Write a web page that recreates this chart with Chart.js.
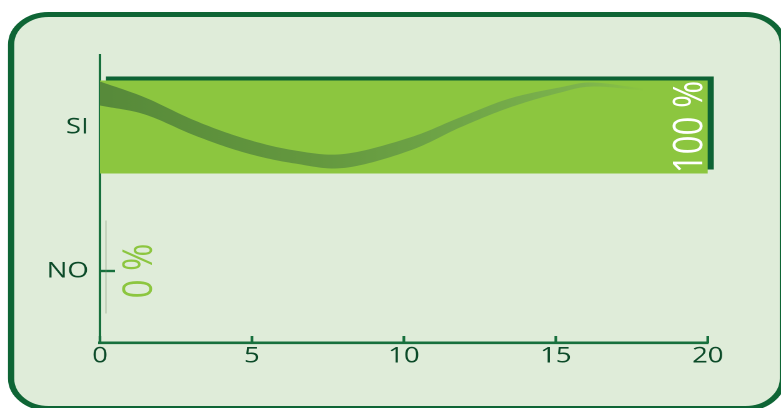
<!DOCTYPE html>
<html>
<head>
<meta charset="utf-8">
<script src="https://cdn.jsdelivr.net/npm/chart.js@4.4.1/dist/chart.umd.min.js"></script>
<style>
  html, body { margin: 0; padding: 0; background: #ffffff; overflow: hidden; }
  /* the whole panel is drawn on a narrower canvas and widened, giving the broad lettering */
  #wrap { position: absolute; left: 0; top: 0; width: 625px; height: 408px;
          transform: scaleX(1.2496); transform-origin: 0 0; }
</style>
</head>
<body>
<div id="wrap"><canvas id="c" width="625" height="408"></canvas></div>
<script>
// answers and their counts
const categories = ['SI', 'NO'];
const counts = [20, 0];

// value axis
const axisMin = 0;
const axisMax = 20;
const axisStep = 5;

const total = counts.reduce((a, b) => a + b, 0);

const COLORS = {
  panel: '#dfecd9',
  frame: '#0e6535',
  axis: '#17703d',
  text: '#0b4a28',
  bar: '#8cc63f',
  shadow: '#0d6334',
  labelIn: '#ffffff',
  labelOut: '#8cc63f'
};

// decorative ribbon across a bar: [position along bar, centre across bar, thickness], all as fractions of the bar box
const ribbonShape = [
  [0.000, 0.140, 0.258],
  [0.074, 0.274, 0.183],
  [0.156, 0.511, 0.161],
  [0.238, 0.700, 0.151],
  [0.321, 0.823, 0.140],
  [0.403, 0.864, 0.150],
  [0.510, 0.683, 0.140],
  [0.592, 0.452, 0.108],
  [0.674, 0.242, 0.097],
  [0.757, 0.102, 0.056],
  [0.811, 0.043, 0.043],
  [0.893, 0.097, 0.020]
];

function catmull(p0, p1, p2, p3, t) {
  const t2 = t * t, t3 = t2 * t;
  return 0.5 * ((2 * p1) + (-p0 + p2) * t + (2 * p0 - 5 * p1 + 4 * p2 - p3) * t2 + (-p0 + 3 * p1 - 3 * p2 + p3) * t3);
}

// smooth the ribbon outline; the ends are extended linearly so they keep their slope
function ribbonSamples() {
  const n = ribbonShape.length;
  const ext = (p, q) => p.map((v, k) => 2 * v - q[k]);
  const pts = [ext(ribbonShape[0], ribbonShape[1]), ...ribbonShape, ext(ribbonShape[n - 1], ribbonShape[n - 2])];
  const out = [];
  for (let i = 1; i < pts.length - 2; i++) {
    const a = pts[i - 1], b = pts[i], c = pts[i + 1], d = pts[i + 2];
    for (let s = 0; s < 16; s++) {
      const t = s / 16;
      out.push([0, 1, 2].map(k => catmull(a[k], b[k], c[k], d[k], t)));
    }
  }
  out.push(ribbonShape[n - 1]);
  return out;
}

const panelPlugin = {
  id: 'panel',
  beforeDraw(chart) {
    const ctx = chart.ctx;
    ctx.save();
    ctx.beginPath();
    ctx.roundRect(8.9, 14.5, 617.6, 394, 30);
    ctx.fillStyle = COLORS.panel;
    ctx.fill();
    ctx.lineWidth = 5;
    ctx.strokeStyle = COLORS.frame;
    ctx.stroke();
    ctx.restore();
  }
};

const barDecor = {
  id: 'barDecor',
  beforeDatasetsDraw(chart) {
    const ctx = chart.ctx;
    const meta = chart.getDatasetMeta(0);
    const xs = chart.scales.x, ys = chart.scales.y;
    ctx.save();
    // inward tick marks
    ctx.strokeStyle = COLORS.axis;
    ctx.lineWidth = 2.2;
    xs.ticks.forEach(t => {
      const px = xs.getPixelForValue(t.value);
      ctx.beginPath();
      ctx.moveTo(px, xs.top);
      ctx.lineTo(px, xs.top - 7);
      ctx.stroke();
    });
    ctx.lineWidth = 2.4;
    ys.ticks.forEach((t, i) => {
      const py = ys.getPixelForTick(i);
      ctx.beginPath();
      ctx.moveTo(ys.right, py);
      ctx.lineTo(ys.right + 12, py);
      ctx.stroke();
    });
    // drop shadows behind the bars
    meta.data.forEach(bar => {
      const { x, y, base, height } = bar.getProps(['x', 'y', 'base', 'height'], true);
      const l = Math.min(x, base) + 4.8, r = Math.max(x, base) + 4.8;
      const top = y - height / 2 - 4, bot = y + height / 2 - 4;
      if (r - l < 1) {
        ctx.strokeStyle = 'rgba(120,140,110,0.55)';
        ctx.lineWidth = 0.8;
        ctx.beginPath();
        ctx.moveTo(l, top);
        ctx.lineTo(l, bot);
        ctx.stroke();
      } else {
        ctx.fillStyle = COLORS.shadow;
        ctx.fillRect(l, top, r - l, bot - top);
      }
    });
    ctx.restore();
  },
  afterDatasetsDraw(chart) {
    const ctx = chart.ctx;
    const meta = chart.getDatasetMeta(0);
    const samples = ribbonSamples();
    meta.data.forEach((bar, i) => {
      const { x, y, base, height } = bar.getProps(['x', 'y', 'base', 'height'], true);
      const w = x - base;
      const top = y - height / 2;
      if (w > 1) {
        ctx.save();
        ctx.beginPath();
        ctx.rect(base, top, w, height);
        ctx.clip();
        const g = ctx.createLinearGradient(base, 0, x, 0);
        g.addColorStop(0.00, '#578a3a');
        g.addColorStop(0.35, '#64983f');
        g.addColorStop(0.60, '#70a648');
        g.addColorStop(0.80, '#7db44d');
        g.addColorStop(0.90, COLORS.bar);
        ctx.fillStyle = g;
        ctx.beginPath();
        samples.forEach((s, k) => {
          const px = base + s[0] * w, py = top + (s[1] - s[2] / 2) * height;
          k ? ctx.lineTo(px, py) : ctx.moveTo(px, py);
        });
        for (let k = samples.length - 1; k >= 0; k--) {
          const s = samples[k];
          ctx.lineTo(base + s[0] * w, top + (s[1] + s[2] / 2) * height);
        }
        ctx.closePath();
        ctx.fill();
        ctx.restore();
      }
      // percentage label, rotated
      const pct = Math.round(counts[i] / total * 100) + ' %';
      const inside = w > 60;
      ctx.save();
      ctx.font = '400 33px "Open Sans"';
      ctx.fillStyle = inside ? COLORS.labelIn : COLORS.labelOut;
      ctx.textAlign = 'center';
      ctx.textBaseline = 'alphabetic';
      ctx.translate(inside ? x - 4.6 : x + 41.5, y);
      ctx.rotate(-Math.PI / 2);
      ctx.fillText(pct, 0, 0);
      ctx.restore();
    });
  }
};

new Chart(document.getElementById('c'), {
  type: 'bar',
  data: {
    labels: categories,
    datasets: [{
      data: counts,
      backgroundColor: COLORS.bar,
      borderWidth: 0,
      barPercentage: 0.646,
      categoryPercentage: 1
    }]
  },
  options: {
    indexAxis: 'y',
    responsive: false,
    devicePixelRatio: 2,
    animation: false,
    layout: { padding: { left: 0, top: 55, right: 58.6, bottom: 25 } },
    plugins: { legend: { display: false }, tooltip: { enabled: false } },
    scales: {
      x: {
        min: axisMin,
        max: axisMax,
        ticks: { stepSize: axisStep, color: COLORS.text, font: { family: '"Open Sans"', size: 22 }, padding: 0, maxRotation: 0 },
        grid: { display: false, drawTicks: false },
        border: { display: true, color: COLORS.axis, width: 2.6 },
        afterFit(s) { s.height = 40; }
      },
      y: {
        ticks: { color: COLORS.text, font: { family: '"Open Sans"', size: 22 }, padding: 9 },
        grid: { display: false, drawTicks: false },
        border: { display: true, color: COLORS.axis, width: 2 },
        afterFit(s) { s.width = 80; }
      }
    }
  },
  plugins: [panelPlugin, barDecor]
});
</script>
</body>
</html>
